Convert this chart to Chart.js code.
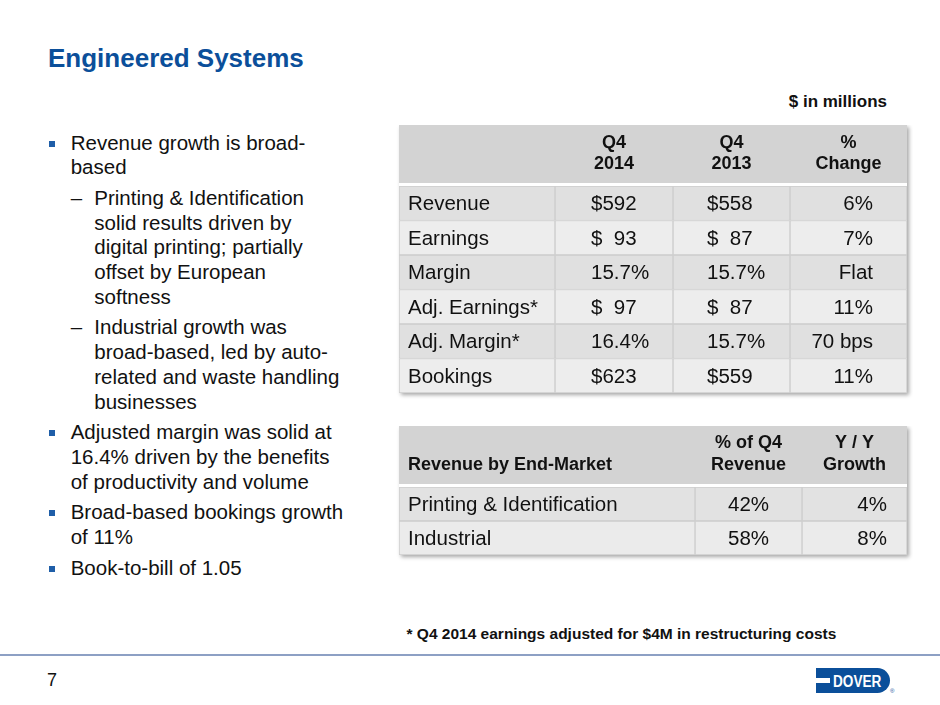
<!DOCTYPE html>
<html>
<head>
<meta charset="utf-8">
<script src="https://cdn.jsdelivr.net/npm/chart.js@4.4.1/dist/chart.umd.min.js"></script>
<style>
  body { margin: 0; background: #fff; font-family: 'Liberation Sans', Arial, sans-serif; color: #111; }
  #slide { position: relative; width: 940px; height: 705px; overflow: hidden; }
  .abs { position: absolute; white-space: nowrap; }
  #title { left: 48px; top: 43px; font-size: 26px; line-height: 30px; font-weight: bold; color: #0b4f9a; }
  #units { right: 53px; top: 91.5px; font-size: 17px; line-height: 20px; font-weight: bold; }
  #notes { left: 0; top: 130.5px; font-size: 20.5px; line-height: 24.7px; }
  #notes div { position: relative; white-space: nowrap; margin-top: 6px; }
  #notes div:first-child { margin-top: 0; }
  #notes .b { padding-left: 70.7px; }
  #notes .b::before { content: ''; position: absolute; left: 49px; top: 10px; width: 6px; height: 6px; background: #1f5ea8; }
  #notes .s { padding-left: 94.3px; }
  #notes .s::before { content: '\2013'; position: absolute; left: 70.7px; top: 0; }
  #foot { left: 406.5px; top: 624.5px; font-size: 15.5px; line-height: 18px; font-weight: bold; }
  #rule { position: absolute; left: 0; top: 653.5px; width: 940px; height: 2px; background: #8da0c4; }
  #page { left: 47px; top: 670px; font-size: 18px; line-height: 20px; }
  #logo { position: absolute; left: 816px; top: 668px; width: 74px; height: 25px; background: #0b4f9a; border-radius: 0 13px 13px 0; }
  #logo span { position: absolute; left: 17px; top: 3.5px; font: bold 16px/19px 'Liberation Sans', Arial, sans-serif; color: #fff; transform: scaleX(0.85); transform-origin: left; }
  #logo i { position: absolute; left: 0; top: 9.5px; width: 14px; height: 5px; background: #fff; }
  #reg { left: 890px; top: 688px; font-size: 6px; line-height: 6px; color: #0b4f9a; }
  .tbl { position: absolute; }
</style>
</head>
<body>
<div id="slide">
  <div id="title" class="abs">Engineered Systems</div>
  <div id="units" class="abs">$ in millions</div>

  <div id="notes" class="abs">
    <div class="b">Revenue growth is broad-<br>based</div>
    <div class="s">Printing &amp; Identification<br>solid results driven by<br>digital printing; partially<br>offset by European<br>softness</div>
    <div class="s">Industrial growth was<br>broad-based, led by auto-<br>related and waste handling<br>businesses</div>
    <div class="b">Adjusted margin was solid at<br>16.4% driven by the benefits<br>of productivity and volume</div>
    <div class="b">Broad-based bookings growth<br>of 11%</div>
    <div class="b">Book-to-bill of 1.05</div>
  </div>

  <div class="tbl" style="left:396px; top:125px; width:517px; height:275px;"><canvas id="finTable"></canvas></div>
  <div class="tbl" style="left:396px; top:426px; width:517px; height:136px;"><canvas id="marketTable"></canvas></div>

  <div id="foot" class="abs">* Q4 2014 earnings adjusted for $4M in restructuring costs</div>
  <div id="rule"></div>
  <div id="page" class="abs">7</div>
  <div id="logo"><i></i><span>DOVER</span></div>
  <div id="reg" class="abs">&reg;</div>
</div>

<script>
// Financial summary table
const finRows = ['Revenue', 'Earnings', 'Margin', 'Adj. Earnings*', 'Adj. Margin*', 'Bookings'];
const finHeaders = [['', ''], ['Q4', '2014'], ['Q4', '2013'], ['%', 'Change']];
const q4of2014 = ['$592', '$  93', '15.7%', '$  97', '16.4%', '$623'];
const q4of2013 = ['$558', '$  87', '15.7%', '$  87', '15.7%', '$559'];
const pctChange = ['6%', '7%', 'Flat', '11%', '70 bps', '11%'];

// End-market table
const marketRows = ['Printing & Identification', 'Industrial'];
const marketHeaders = [['', 'Revenue by End-Market'], ['% of Q4', 'Revenue'], ['Y / Y', 'Growth']];
const revenueShare = ['42%', '58%'];
const yoyGrowth = ['4%', '8%'];

const FONT = "'Liberation Sans', Arial, sans-serif";

// draws the header band, the drop shadow and every cell's text
const tablePlugin = {
    id: 'tableCells',
    beforeDatasetsDraw(chart, args, o) {
        const ctx = chart.ctx, a = chart.chartArea, x = chart.scales.x;
        const top = a.top - o.headerHeight - o.gap;
        ctx.save();
        ctx.shadowColor = 'rgba(0,0,0,0.35)';
        ctx.shadowBlur = 4;
        ctx.shadowOffsetX = 1.5;
        ctx.shadowOffsetY = 2;
        ctx.fillStyle = '#ffffff';
        ctx.fillRect(a.left, top, a.right - a.left, a.bottom - top);
        ctx.restore();

        ctx.save();
        ctx.fillStyle = '#d3d3d3';
        ctx.fillRect(a.left, top, a.right - a.left, o.headerHeight);
        ctx.fillStyle = '#111';
        ctx.font = 'bold 18px ' + FONT;
        ctx.textBaseline = 'alphabetic';
        o.headers.forEach((lines, c) => {
            const x0 = x.getPixelForValue(o.edges[c]);
            const x1 = x.getPixelForValue(o.edges[c + 1]);
            lines.forEach((t, i) => {
                if (!t) return;
                const y = top + o.headerBaselines[i];
                if (c === 0) {
                    ctx.textAlign = 'left';
                    ctx.fillText(t, x0 + 9, y);
                } else {
                    ctx.textAlign = 'center';
                    ctx.fillText(t, (x0 + x1) / 2, y);
                }
            });
        });
        ctx.restore();
    },
    afterDatasetsDraw(chart, args, o) {
        const ctx = chart.ctx;
        ctx.save();
        ctx.fillStyle = '#111';
        ctx.font = '20.5px ' + FONT;
        ctx.textBaseline = 'alphabetic';
        chart.data.datasets.forEach((ds, c) => {
            const meta = chart.getDatasetMeta(c);
            const al = o.align[c];
            meta.data.forEach((bar, r) => {
                const left = Math.min(bar.x, bar.base);
                const right = Math.max(bar.x, bar.base);
                let tx;
                if (al.pos === 'left') { ctx.textAlign = 'left'; tx = left + al.pad; }
                else if (al.pos === 'right') { ctx.textAlign = 'right'; tx = right - al.pad; }
                else { ctx.textAlign = 'center'; tx = (left + right) / 2; }
                ctx.fillText(ds.cellText[r], tx, bar.y + 7.2);
            });
        });
        ctx.restore();
    }
};

function buildTable(id, rows, columns, headers, layout) {
    const width = layout.edges[layout.edges.length - 1];
    const datasets = columns.map((texts, c) => ({
        data: rows.map(() => [layout.edges[c], layout.edges[c + 1]]),
        cellText: texts,
        backgroundColor: ctx => layout.rowColors[ctx.dataIndex % 2],
        borderColor: '#cdcdcd',
        borderWidth: 1,
        borderSkipped: false,
        barPercentage: 1,
        categoryPercentage: 1,
        grouped: false
    }));
    return new Chart(document.getElementById(id), {
        type: 'bar',
        data: { labels: rows, datasets: datasets },
        options: {
            indexAxis: 'y',
            responsive: true,
            maintainAspectRatio: false,
            animation: false,
            events: [],
            layout: { padding: { top: layout.headerHeight + layout.gap, right: 6, bottom: 7, left: 3 } },
            scales: {
                x: { type: 'linear', min: 0, max: width, display: false },
                y: { type: 'category', display: false }
            },
            plugins: {
                legend: { display: false },
                tooltip: { enabled: false },
                tableCells: {
                    headers: headers,
                    edges: layout.edges,
                    align: layout.align,
                    headerHeight: layout.headerHeight,
                    gap: layout.gap,
                    headerBaselines: layout.headerBaselines
                }
            }
        },
        plugins: [tablePlugin]
    });
}

buildTable('finTable', finRows, [finRows, q4of2014, q4of2013, pctChange], finHeaders, {
    edges: [0, 156, 274, 391, 508],
    align: [{ pos: 'left', pad: 9 }, { pos: 'left', pad: 36 }, { pos: 'left', pad: 34 }, { pos: 'right', pad: 34 }],
    rowColors: ['#e0e0e0', '#ededed'],
    headerHeight: 58,
    gap: 3,
    headerBaselines: [23, 44]
});

buildTable('marketTable', marketRows, [marketRows, revenueShare, yoyGrowth], marketHeaders, {
    edges: [0, 296, 403, 508],
    align: [{ pos: 'left', pad: 9 }, { pos: 'center', pad: 0 }, { pos: 'right', pad: 20 }],
    rowColors: ['#e2e2e2', '#ebebeb'],
    headerHeight: 58,
    gap: 3,
    headerBaselines: [22, 44]
});
</script>
</body>
</html>
